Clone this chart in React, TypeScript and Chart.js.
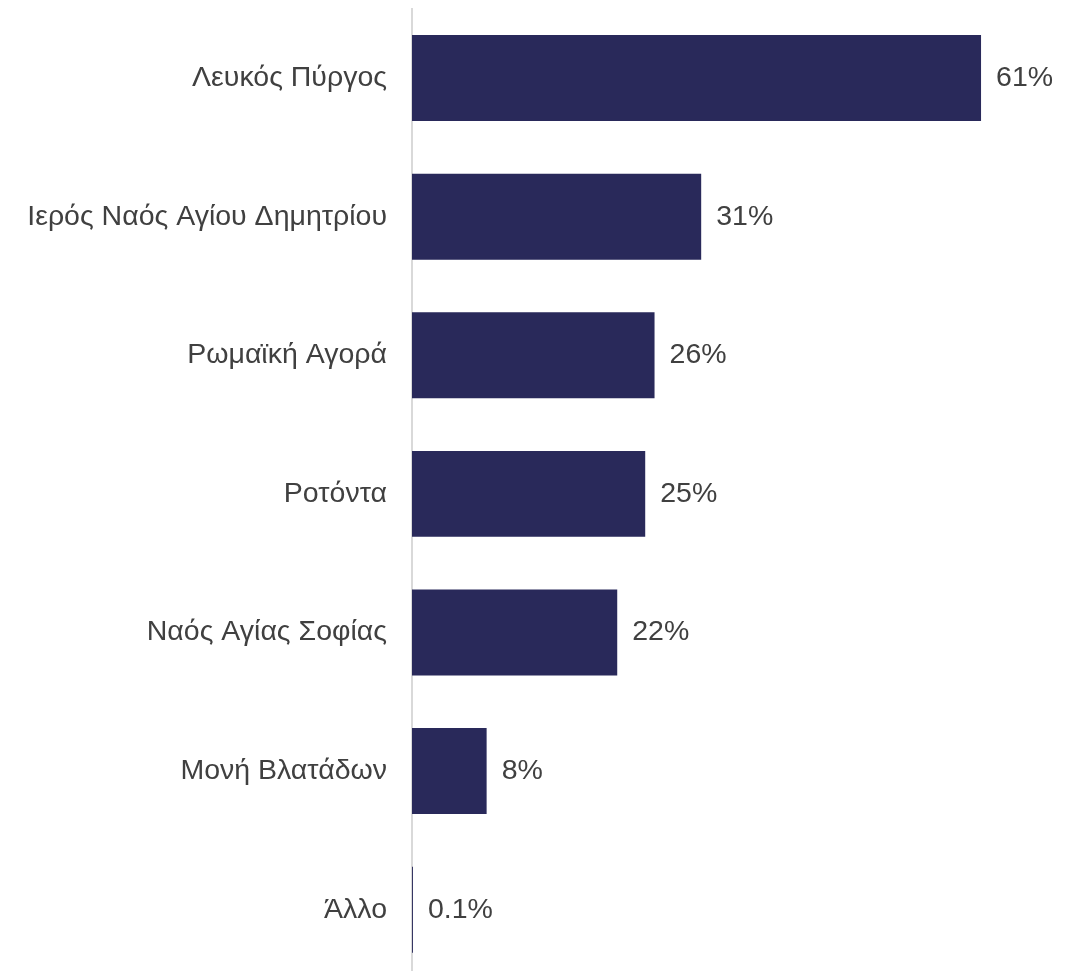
import React, { useEffect, useRef } from "react";
import { Chart, registerables } from "chart.js";

Chart.register(...registerables);

const categories = [
  "Λευκός Πύργος",
  "Ιερός Ναός Αγίου Δημητρίου",
  "Ρωμαϊκή Αγορά",
  "Ροτόντα",
  "Ναός Αγίας Σοφίας",
  "Μονή Βλατάδων",
  "Άλλο",
];
const values = [61, 31, 26, 25, 22, 8, 0.1];
const valueLabels = ["61%", "31%", "26%", "25%", "22%", "8%", "0.1%"];

const FONT = "'Liberation Sans', Arial, sans-serif";

const dataLabelPlugin = {
  id: "dataLabels",
  afterDatasetsDraw(chart: any) {
    const ctx = chart.ctx;
    const meta = chart.getDatasetMeta(0);
    ctx.save();
    ctx.font = `28.5px ${FONT}`;
    ctx.fillStyle = "#404040";
    ctx.textAlign = "left";
    ctx.textBaseline = "middle";
    meta.data.forEach((bar: any, i: number) => {
      ctx.fillText(valueLabels[i], bar.x + 15, bar.y);
    });
    ctx.restore();
  },
};

export default function App() {
  const ref = useRef<HTMLCanvasElement>(null);
  useEffect(() => {
    document.body.style.margin = "0";
    const chart = new Chart(ref.current!, {
      type: "bar",
      data: {
        labels: categories,
        datasets: [
          {
            data: values,
            backgroundColor: "#29295a",
            borderWidth: 0,
            barPercentage: 0.62,
            categoryPercentage: 1,
          },
        ],
      },
      options: {
        indexAxis: "y",
        animation: false,
        responsive: false,
        maintainAspectRatio: false,
        layout: { padding: { top: 8.75, bottom: 0, left: 0, right: 13 } },
        plugins: {
          legend: { display: false },
          tooltip: { enabled: false },
        },
        scales: {
          x: {
            display: false,
            min: 0,
            max: 70,
          },
          y: {
            grid: { display: false, drawTicks: false },
            border: { display: true, color: "#d9d9d9", width: 2 },
            ticks: {
              padding: 25,
              color: "#404040",
              font: { family: FONT, size: 28.5 },
            },
            afterFit(scale: any) {
              scale.width = 412;
              scale.paddingTop = 0;
              scale.paddingBottom = 0;
            },
          },
        },
      },
      plugins: [dataLabelPlugin],
    });
    return () => chart.destroy();
  }, []);
  return (
    <div style={{ width: 1078, height: 971, overflow: "hidden", background: "#fff" }}>
      <canvas ref={ref} width={1078} height={979} style={{ display: "block" }} />
    </div>
  );
}
